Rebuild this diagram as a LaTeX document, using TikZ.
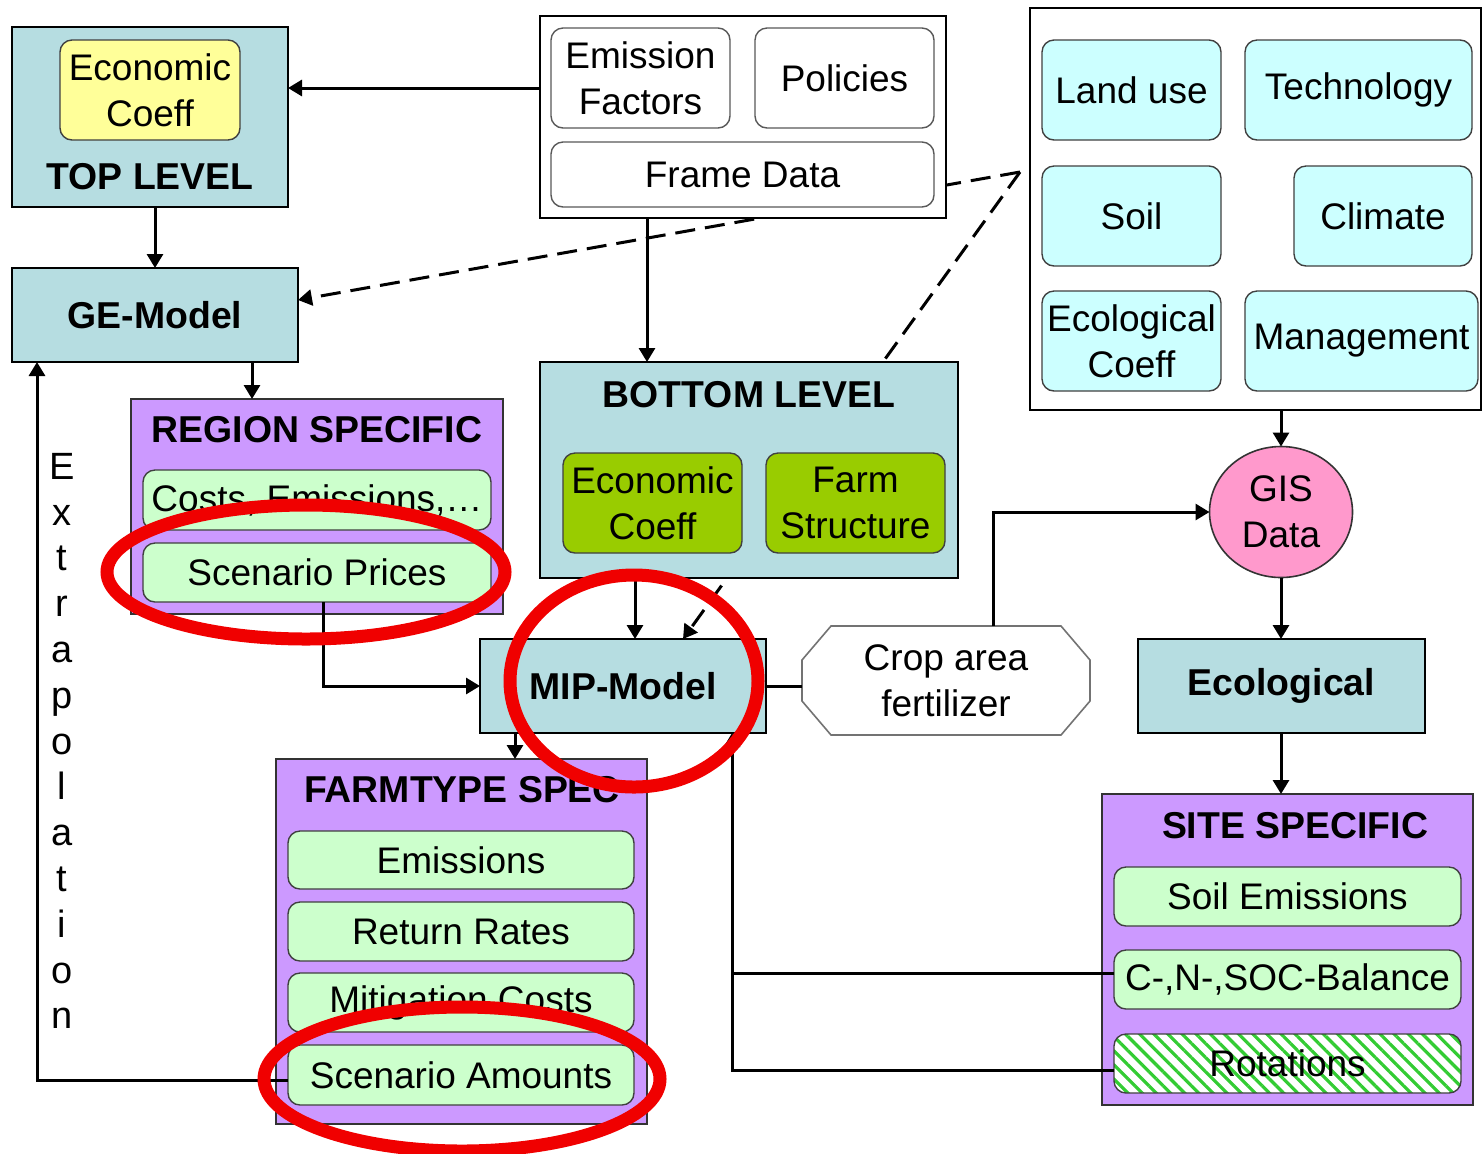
\documentclass[tikz,border=0pt]{standalone}
\usepackage{fontspec}
\setmainfont{Liberation Sans}
\usetikzlibrary{fit,shapes.geometric,arrows.meta,patterns.meta,backgrounds,calc}

\definecolor{lblue}{HTML}{B6DDE1}
\definecolor{lyellow}{HTML}{FFFF99}
\definecolor{lcyan}{HTML}{CCFFFF}
\definecolor{lpurple}{HTML}{CC99FF}
\definecolor{lgreen}{HTML}{CCFFCC}
\definecolor{dgreen}{HTML}{99CC00}
\definecolor{lpink}{HTML}{FF99CC}
\definecolor{hgreen}{HTML}{33CC33}
\definecolor{ringred}{HTML}{F00000}

\newcommand\myfs{\fontsize{18.5}{23}\selectfont}
\newcommand\myhd{\fontsize{18.7}{23}\selectfont\bfseries}

\begin{document}
\begin{tikzpicture}[x=0.5pt,y=-0.5pt,
 every node/.style={inner sep=0pt, outer sep=0pt, align=center, font=\myfs},
 bluebox/.style={draw=black, line width=0.8pt, fill=lblue},
 purplebox/.style={draw=black!80, line width=0.8pt, fill=lpurple},
 framebox/.style={draw=black, line width=0.8pt, fill=white},
 sub/.style={draw=black!75, line width=0.7pt, rounded corners=6pt},
 whitesub/.style={sub, fill=white, draw=black!65},
 yellowsub/.style={sub, fill=lyellow},
 cyansub/.style={sub, fill=lcyan},
 greensub/.style={sub, fill=lgreen},
 dgreensub/.style={sub, fill=dgreen},
 heading/.style={font=\myhd},
 conn/.style={line width=1.5pt, draw=black},
 arr/.style={conn, -{Triangle[length=7pt,width=8pt]}},
 darr/.style={arr, dash pattern=on 10pt off 5pt},
 ring/.style={draw=ringred, line width=6.5pt}
]
\useasboundingbox (0,0) rectangle (1482,1153);

% ---------- TOP LEVEL ----------
\node[bluebox, fit={(12,27)(288,207)}] (top) {};
\node[yellowsub, fit={(60,40)(240,140)}] (tecon) {};
\node (tecont) at (tecon.center) {Economic\\Coeff};
\node[heading] (toph) at (150,177) {TOP LEVEL};

% ---------- GE-Model ----------
\node[bluebox, fit={(12,268)(298,362)}] (ge) {};
\node[heading] (get) at (ge.center) {GE-Model};

% ---------- Frame box ----------
\node[framebox, fit={(540,16)(946,218)}] (frame) {};
\node[whitesub, fit={(551,28)(730,128)}] (emf) {};
\node (emft) at (emf.center) {Emission\\Factors};
\node[whitesub, fit={(755,28)(934,128)}] (pol) {};
\node (polt) at (pol.center) {Policies};
\node[whitesub, fit={(551,142)(934,207)}] (fd) {};
\node (fdt) at (fd.center) {Frame Data};

% ---------- Data box ----------
\node[framebox, fit={(1030,8)(1481,410)}] (data) {};
\node[cyansub, fit={(1042,40)(1221,140)}] (land) {};
\node (landt) at (land.center) {Land use};
\node[cyansub, fit={(1245,40)(1472,140)}] (tech) {};
\node (techt) at (tech.center) {Technology};
\node[cyansub, fit={(1042,166)(1221,266)}] (soil) {};
\node (soilt) at (soil.center) {Soil};
\node[cyansub, fit={(1294,166)(1472,266)}] (clim) {};
\node (climt) at (clim.center) {Climate};
\node[cyansub, fit={(1042,291)(1221,391)}] (ecoc) {};
\node (ecoct) at (ecoc.center) {Ecological\\Coeff};
\node[cyansub, fit={(1245,291)(1478,391)}] (mgmt) {};
\node (mgmtt) at (mgmt.center) {Management};

% ---------- REGION SPECIFIC ----------
\node[purplebox, fit={(131,399)(503,614)}] (region) {};
\node[heading] (regh) at (317,430) {REGION SPECIFIC};
\node[greensub, fit={(143,470)(491,530)}] (costs) {};
\node (costst) at (costs.center) {Costs, Emissions,…};
\node[greensub, fit={(143,543)(491,602)}] (sp) {};
\node (spt) at (sp.center) {Scenario Prices};

% ---------- BOTTOM LEVEL ----------
\node[bluebox, fit={(540,362)(958,578)}] (bottom) {};
\node[heading] (both) at (749,395) {BOTTOM LEVEL};
\node[dgreensub, fit={(563,453)(742,553)}] (becon) {};
\node (becont) at (becon.center) {Economic\\Coeff};
\node[dgreensub, fit={(766,453)(945,553)}] (fstr) {};
\node (fstrt) at (fstr.center) {Farm\\Structure};

% ---------- MIP-Model ----------
\node[bluebox, fit={(480,639)(766,733)}] (mip) {};
\node[heading] (mipt) at (mip.center) {MIP-Model};

% ---------- Crop area ----------
\node[fit={(802,626)(1090,735)}] (crop) {};
\draw[draw=black!55, line width=0.8pt, fill=white]
  ([xshift=14.5pt]crop.north west) -- ([xshift=-14.5pt]crop.north east)
  -- ([yshift=-17pt]crop.north east) -- ([yshift=17pt]crop.south east)
  -- ([xshift=-14.5pt]crop.south east) -- ([xshift=14.5pt]crop.south west)
  -- ([yshift=17pt]crop.south west) -- ([yshift=-17pt]crop.north west) -- cycle;
\node (cropt) at (crop.center) {Crop area\\fertilizer};

% ---------- GIS ----------
\node[ellipse, draw=black!80, line width=0.8pt, fill=lpink,
      minimum width=71.5pt, minimum height=65.5pt] (gis) at (1281,512) {};
\node (gist) at (gis.center) {GIS\\Data};

% ---------- Ecological ----------
\node[bluebox, fit={(1138,639)(1425,733)}] (eco) {};
\node[heading] (ecot) at (eco.center) {Ecological};

% ---------- SITE SPECIFIC ----------
\node[purplebox, fit={(1102,794)(1473,1105)}] (site) {};
\node[heading] (siteh) at (1295,826) {SITE SPECIFIC};
\node[greensub, fit={(1114,867)(1461,926)}] (semi) {};
\node (semit) at (semi.center) {Soil Emissions};
\node[greensub, fit={(1114,950)(1461,1009)}] (cnb) {};
\node (cnbt) at (cnb.center) {C-,N-,SOC-Balance};
\node[sub, preaction={fill=white},
      pattern={Lines[angle=-45,distance=5pt,line width=1.6pt]}, pattern color=hgreen,
      fit={(1114,1034)(1461,1093)}] (rot) {};
\node (rott) at (rot.center) {Rotations};

% ---------- FARMTYPE SPEC ----------
\node[purplebox, fit={(276,759)(647,1124)}] (farm) {};
\node[heading] (farmh) at (462,790) {FARMTYPE SPEC};
\node[greensub, fit={(288,831)(634,889)}] (femi) {};
\node (femit) at (femi.center) {Emissions};
\node[greensub, fit={(288,902)(634,961)}] (rr) {};
\node (rrt) at (rr.center) {Return Rates};
\node[greensub, fit={(288,973)(634,1032)}] (mc) {};
\node (mct) at (mc.center) {Mitigation Costs};
\node[greensub, fit={(288,1045)(634,1105)}] (sa) {};
\node (sat) at (sa.center) {Scenario Amounts};

% ---------- Extrapolation label ----------
\node[font=\fontsize{19}{22.9}\selectfont] (extra) at (62,741)
  {E\\x\\t\\r\\a\\p\\o\\l\\a\\t\\i\\o\\n};

% ---------- dashed connectors (behind boxes) ----------
\coordinate (dsrc) at (1020,172);
\begin{pgfonlayer}{background}
\draw[darr] (dsrc) -- ([yshift=7.5pt]ge.east);
\draw[darr] (dsrc) -- ([xshift=30pt]mip.north);
\end{pgfonlayer}

% ---------- solid connectors ----------
\draw[arr] (frame.west |- 0,88) -- (top.east |- 0,88);
\draw[arr] (top.south -| 155,0) -- (ge.north -| 155,0);
\draw[arr] (ge.south -| 252,0) -- (region.north -| 252,0);
\draw[arr] (frame.south -| 647,0) -- (bottom.north -| 647,0);
\draw[arr] (bottom.south -| 635,0) -- (mip.north -| 635,0);
\draw[arr] ([xshift=3pt]sp.south) |- (mip.west);
\draw[arr] ([xshift=17.5pt]mip.south west) -- ([xshift=17.5pt]mip.south west |- farm.north);
\draw[conn] (mip.east) -- (mip.east -| crop.west);
\draw[arr] ([xshift=23.5pt]crop.north) |- (gis.west);
\draw[arr] (data.south -| gis.north) -- (gis.north);
\draw[arr] (gis.south) -- (gis.south |- eco.north);
\draw[arr] (eco.south -| gis.south) -- (site.north -| gis.south);
\draw[arr] ([yshift=-2.5pt]sa.west) -| ([xshift=12.5pt]ge.south west);
\coordinate (mipb) at ([xshift=-17pt]mip.south east);
\draw[conn] ([yshift=3pt]cnb.west) -- ([yshift=3pt]cnb.west -| mipb);
\draw[arr] ([yshift=-3.5pt]rot.west) -| (mipb);

% ---------- red rings ----------
\draw[ring] (306,572) ellipse [x radius=99.5pt, y radius=33.5pt];
\draw[ring] (634,681) ellipse [x radius=62pt, y radius=53pt];
\draw[ring] (462,1079) ellipse [x radius=99pt, y radius=36pt];
\end{tikzpicture}
\end{document}
